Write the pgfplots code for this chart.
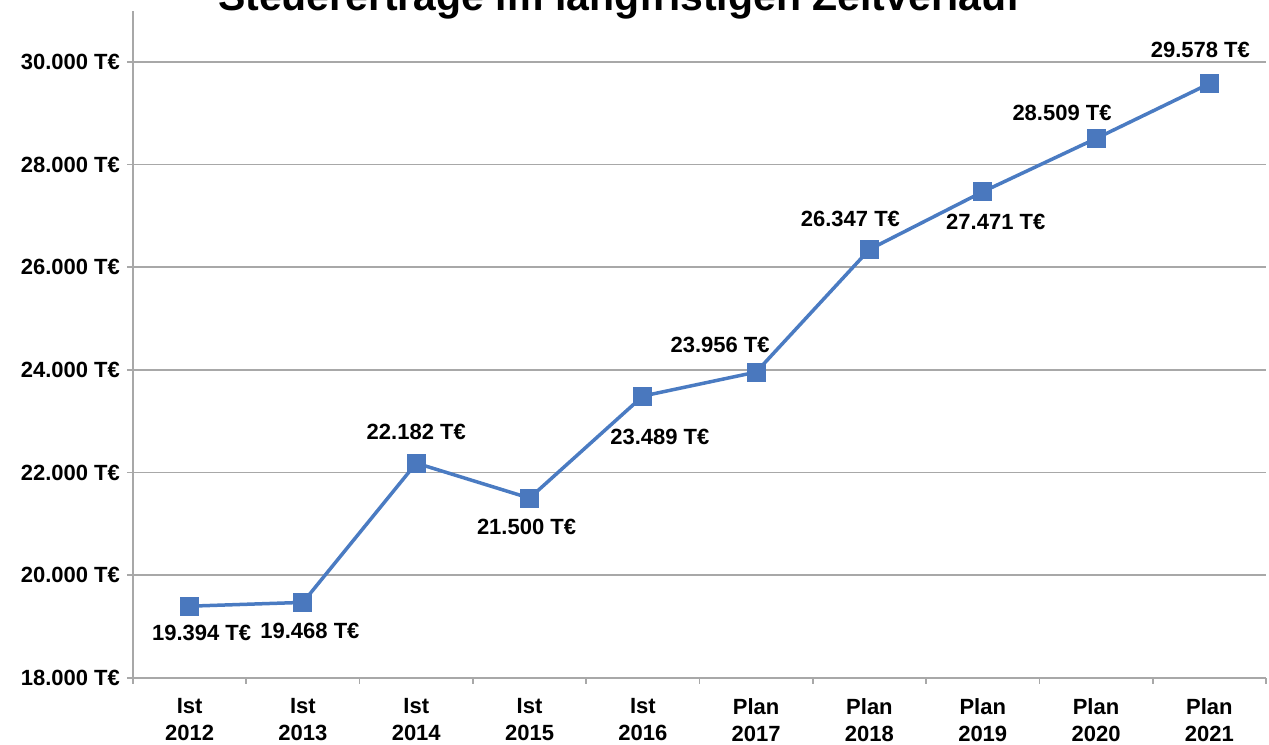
\documentclass[border=0pt]{standalone}
\usepackage{pgfplots}
\pgfplotsset{compat=1.18}
\usepackage{fontspec}
\setmainfont{Liberation Sans}
\definecolor{linec}{HTML}{4A7BC2}
\definecolor{markc}{HTML}{4A78BE}
\definecolor{gridc}{HTML}{A8A8A8}

\begin{document}
\begin{tikzpicture}[lbl/.style={font=\bfseries\fontsize{11}{13}\selectfont, inner sep=0pt}]
\begin{axis}[
  scale only axis, width=566.5pt, height=333.5pt,
  at={(0,0)}, anchor=south west,
  xmin=-0.5, xmax=9.5, ymin=18000, ymax=31000,
  axis lines*=left,
  axis line style={gridc, line width=0.8pt},
  xtick={0,...,9},
  xticklabels={{Ist\\2012},{Ist\\2013},{Ist\\2014},{Ist\\2015},{Ist\\2016},{Plan\\2017},{Plan\\2018},{Plan\\2019},{Plan\\2020},{Plan\\2021}},
  xticklabel style={align=center, font=\bfseries\fontsize{11}{13.5}\selectfont, yshift=-4pt},
  major x tick style={draw=none},
  minor xtick={-0.5,0.5,...,9.5},
  minor x tick style={gridc, line width=0.8pt},
  minor tick length=3pt,
  ytick={18000,20000,...,30000},
  yticklabels={18.000 T€,20.000 T€,22.000 T€,24.000 T€,26.000 T€,28.000 T€,30.000 T€},
  yticklabel style={font=\bfseries\fontsize{11}{13}\selectfont},
  major y tick style={gridc, line width=0.8pt},
  major tick length=3pt,
  tick align=outside,
  ymajorgrids,
  grid style={gridc, line width=0.8pt},
  clip=false,
]
\addplot[linec, line width=1.75pt, mark=square*, mark size=4.5pt,
  mark options={fill=markc, draw=markc, line width=0.5pt}]
  coordinates {(0,19394) (1,19468) (2,22182) (3,21500) (4,23489)
               (5,23956) (6,26347) (7,27471) (8,28509) (9,29578)};
\node[lbl, xshift=6pt,   yshift=-13.5pt] at (axis cs:0,19394) {19.394 T€};
\node[lbl, xshift=3.5pt, yshift=-14.5pt] at (axis cs:1,19468) {19.468 T€};
\node[lbl, xshift=0pt,   yshift=15.5pt]  at (axis cs:2,22182) {22.182 T€};
\node[lbl, xshift=-1.5pt,yshift=-14.5pt] at (axis cs:3,21500) {21.500 T€};
\node[lbl, xshift=8.5pt, yshift=-20.5pt] at (axis cs:4,23489) {23.489 T€};
\node[lbl, xshift=-18pt, yshift=13.5pt]  at (axis cs:5,23956) {23.956 T€};
\node[lbl, xshift=-9.5pt,yshift=15pt]    at (axis cs:6,26347) {26.347 T€};
\node[lbl, xshift=6.5pt, yshift=-15pt]   at (axis cs:7,27471) {27.471 T€};
\node[lbl, xshift=-17pt, yshift=13pt]    at (axis cs:8,28509) {28.509 T€};
\node[lbl, xshift=-4.5pt,yshift=17pt]    at (axis cs:9,29578) {29.578 T€};
\end{axis}
\node[anchor=base, font=\bfseries\fontsize{20.5}{24}\selectfont, inner sep=0pt]
  at (243pt,333.6pt) {Steuererträge im langfristigen Zeitverlauf};
\pgfresetboundingbox
\path[use as bounding box] (-66.5pt,-33.5pt) rectangle (568pt,338.85pt);
\end{tikzpicture}
\end{document}
